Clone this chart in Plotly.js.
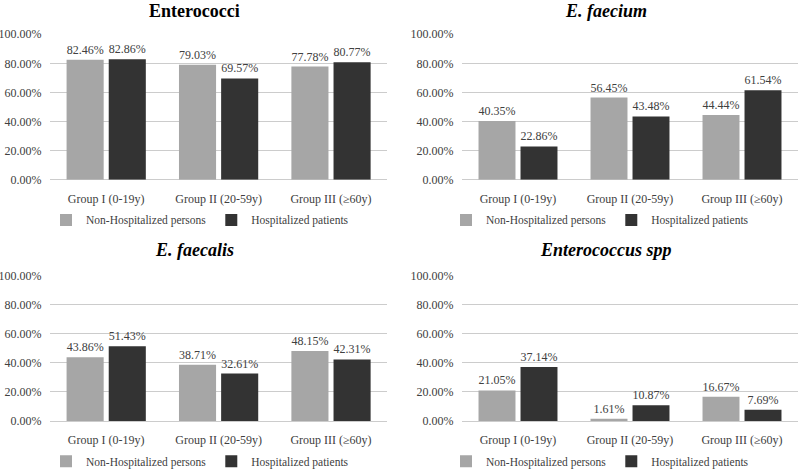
<!DOCTYPE html>
<html>
<head>
<meta charset="utf-8">
<script src="https://cdn.plot.ly/plotly-3.0.1.min.js"></script>
<style>html,body{margin:0;padding:0;background:#fff;}#chart{width:800px;height:476px;}</style>
</head>
<body>
<div id="chart"></div>
<script>
// ---- Data ----
const categories = ['Group I (0-19y)', 'Group II (20-59y)', 'Group III (≥60y)'];
const seriesNames = ['Non-Hospitalized persons', 'Hospitalized patients'];
const panelTitles = ['<b>Enterococci</b>', '<b><i>E. faecium</i></b>', '<b><i>E. faecalis</i></b>', '<b><i>Enterococcus spp</i></b>'];

const enterococciNonHosp = [82.46, 79.03, 77.78];
const enterococciHosp    = [82.86, 69.57, 80.77];
const faeciumNonHosp     = [40.35, 56.45, 44.44];
const faeciumHosp        = [22.86, 43.48, 61.54];
const faecalisNonHosp    = [43.86, 38.71, 48.15];
const faecalisHosp       = [51.43, 32.61, 42.31];
const sppNonHosp         = [21.05, 1.61, 16.67];
const sppHosp            = [37.14, 10.87, 7.69];

const panels = [
  [enterococciNonHosp, enterococciHosp],
  [faeciumNonHosp, faeciumHosp],
  [faecalisNonHosp, faecalisHosp],
  [sppNonHosp, sppHosp]
];

// ---- Style ----
const FONT = 'Liberation Serif';
const colors = ['#a6a6a6', '#333333'];
const textColor = '#404040';
const gridColor = '#cccccc';

const traces = [];
panels.forEach((pair, p) => {
  const sfx = p === 0 ? '' : String(p + 1);
  pair.forEach((vals, s) => {
    traces.push({
      type: 'bar',
      x: categories,
      y: vals,
      name: seriesNames[s],
      xaxis: 'x' + sfx,
      yaxis: 'y' + sfx,
      legend: 'legend' + sfx,
      marker: {color: colors[s]},
      texttemplate: '%{y:.2f}%',
      textposition: 'outside',
      constraintext: 'none',
      cliponaxis: false,
      textfont: {family: FONT, size: 12, color: textColor},
      hoverinfo: 'x+y'
    });
  });
});

const xDomains = [[0.0625, 0.484], [0.5775, 0.9975]];
const yDomains = [[0.6134, 0.9265], [0.0945, 0.4076]];

const layout = {
  width: 800, height: 476,
  margin: {l: 0, r: 0, t: 0, b: 0},
  paper_bgcolor: '#ffffff', plot_bgcolor: '#ffffff',
  font: {family: FONT, color: textColor, size: 12},
  barmode: 'group',
  bargap: 0.25,
  bargroupgap: 0.12,
  annotations: []
};

for (let p = 0; p < 4; p++) {
  const sfx = p === 0 ? '' : String(p + 1);
  const col = p % 2, row = Math.floor(p / 2);
  layout['xaxis' + sfx] = {
    domain: xDomains[col],
    anchor: 'y' + sfx,
    type: 'category',
    showgrid: false,
    showline: false,
    zeroline: false,
    ticks: 'outside', ticklen: 8, tickcolor: 'rgba(0,0,0,0)',
    tickfont: {family: FONT, size: 12, color: textColor},
    fixedrange: true
  };
  layout['yaxis' + sfx] = {
    domain: yDomains[row],
    anchor: 'x' + sfx,
    range: [0, 100],
    tickvals: [0, 20, 40, 60, 80, 100],
    ticktext: ['0.00%', '20.00%', '40.00%', '60.00%', '80.00%', '100.00%'],
    showgrid: true, gridcolor: gridColor, gridwidth: 1,
    zeroline: true, zerolinecolor: gridColor, zerolinewidth: 1,
    showline: false,
    ticks: 'outside', ticklen: 5, tickcolor: 'rgba(0,0,0,0)',
    tickfont: {family: FONT, size: 12, color: textColor},
    fixedrange: true
  };
  layout['legend' + sfx] = {
    orientation: 'h',
    x: col === 0 ? 0.25 : 0.75,
    xanchor: 'center',
    y: row === 0 ? 0.527 : 0.008,
    yanchor: 'middle',
    font: {family: FONT, size: 11.5, color: textColor},
    bgcolor: 'rgba(0,0,0,0)',
    traceorder: 'normal',
    itemwidth: 30
  };
  layout.annotations.push({
    text: panelTitles[p],
    xref: 'paper', yref: 'paper',
    x: col === 0 ? 0.2425 : 0.757,
    y: row === 0 ? 1 - 11 / 476 : 1 - 256 / 476,
    xanchor: 'center', yanchor: 'middle',
    showarrow: false,
    font: {family: FONT, size: 18, color: '#000000'}
  });
}

Plotly.newPlot('chart', traces, layout, {displayModeBar: false, staticPlot: true});
</script>
</body>
</html>
